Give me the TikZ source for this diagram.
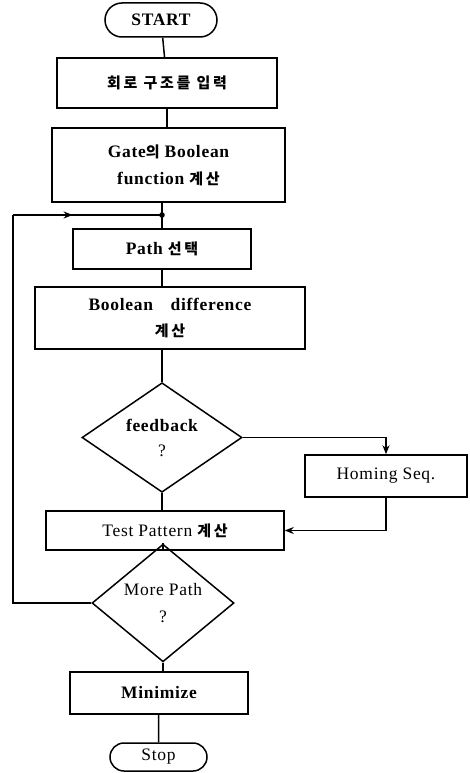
\documentclass[tikz,border=0pt]{standalone}
\usepackage{fontspec}
\setmainfont{Liberation Serif}[LetterSpace=4]
\newfontfamily\kr[LetterSpace=18]{Noto Sans CJK KR}
\newcommand\hg[1]{{\kr\bfseries\fontsize{15}{18}\selectfont #1}}
\usetikzlibrary{shapes.geometric,shapes.misc,arrows.meta,decorations.markings}
\begin{document}
\begin{tikzpicture}[x=1pt,y=-1pt,
  line width=1.5pt,
  every node/.style={font=\fontsize{17.5}{20}\selectfont, align=center, inner sep=0pt},
  term/.style={draw, rounded rectangle, minimum width=#1, minimum height=30pt},
  proc/.style={draw, rectangle},
  decide/.style={draw, diamond},
  flow/.style={-{Stealth[length=9pt,width=7pt]}},
  midarrow/.style={postaction={decorate},
    decoration={markings, mark=at position #1 with {\arrow{Stealth[length=9pt,width=7pt]}}}}
]
\useasboundingbox (0,0) rectangle (469,773);

% terminals
\node[term=112pt, minimum height=34pt] (start) at (161,20) {\bfseries START};
\node[term=97pt, minimum height=28pt] (stop) at (158.5,757) {Stop};

% process boxes
\node[proc, minimum width=220pt, minimum height=50pt] (input) at (167,83)
  {\hg{회로 구조를 입력}};
\node[proc, minimum width=233pt, minimum height=74pt] (gate) at (168.5,165)
  {\bfseries Gate\hg{의} Boolean\\[7pt]\bfseries function \hg{계산}};
\node[proc, minimum width=178pt, minimum height=40pt] (path) at (162,249)
  {\bfseries Path \hg{선택}};
\node[proc, minimum width=270pt, minimum height=62pt] (bdiff) at (170,318)
  {\bfseries Boolean\quad difference\\[6pt]\hg{계산}};
\node[decide, minimum width=160pt, minimum height=81pt] (fb) at (162,437.5)
  {\bfseries feedback\\[5pt]?};
\node[proc, minimum width=162pt, minimum height=42pt] (homing) at (386,476)
  {Homing Seq.};
\node[proc, minimum width=238pt, minimum height=39pt] (test) at (165,530.5)
  {Test Pattern \hg{계산}};
\node[decide, minimum width=142pt, minimum height=90pt] (more) at (163,603)
  {More Path\\[7pt]?};
\node[proc, minimum width=178pt, minimum height=42pt] (mini) at (159,693)
  {\bfseries Minimize};

% junction and loop corner
\coordinate (j) at (162,215);
\coordinate (lt) at (13,215);
\coordinate (lb) at (13,603);

% main flow
\draw (start) -- (input);
\draw (input) -- (input |- gate.north);
\draw (gate.south -| j) -- (j) -- (path);
\draw (path) -- (path |- bdiff.north);
\draw (bdiff.south -| fb.north) -- (fb);
\draw (fb) -- (test.north -| fb.south);
\draw (test.south -| more.north) -- (more);
\draw (more) -- (mini.north -| more.south);
\draw (mini.south -| stop.north) -- (stop);

% feedback branch through the homing sequence
\draw[flow] (fb.east) -| (homing.north);
\draw[flow] (homing.south) |- (test.east);

% loop back for the next path
\draw (more.west) -- (lb) -- (lt);
\draw[midarrow=0.4] (lt) -- (j);
\fill (j) circle (2.8pt);
\end{tikzpicture}
\end{document}
